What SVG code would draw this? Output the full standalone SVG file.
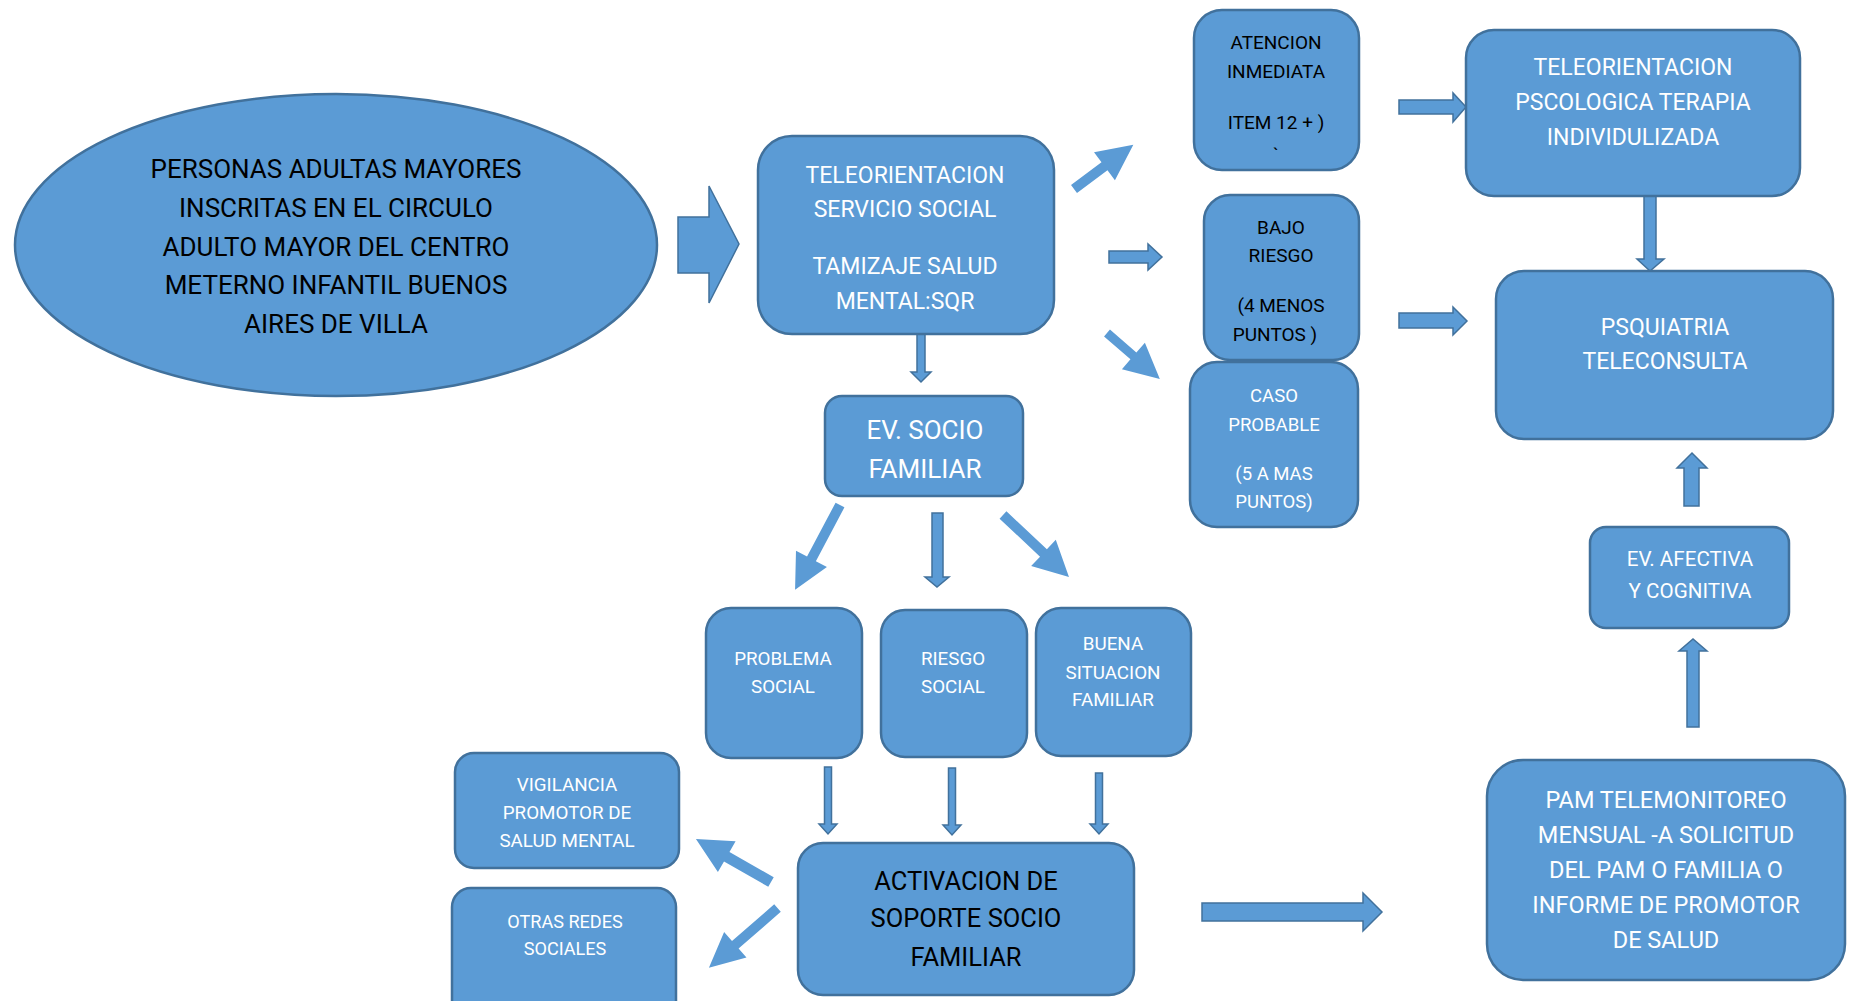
<svg xmlns="http://www.w3.org/2000/svg" width="1852" height="1001" viewBox="0 0 1852 1001">
<style>
.n{fill:#5B9BD5;stroke:#41719C;stroke-width:2.5}
.a{fill:#5B9BD5;stroke:#41719C;stroke-width:1.5}
.d{fill:#5B9BD5}
text{font-family:Roboto,"Liberation Sans",sans-serif;text-anchor:middle}
.w{fill:#FFFFFF}
.k{fill:#000000}
</style>
<rect width="1852" height="1001" fill="#FFFFFF"/>
<g id="connectors">
<polygon class="a" points="678,217 709,217 709,186 739,244 709,303 709,273 678,273"/>
<polygon class="a" points="917,305 925,305 925,372 931,372 921,382 911,372 917,372"/>
<polygon class="d" transform="translate(1074,189) rotate(-36.7)" points="0,-5 38,-5 38,-17.5 74,0 38,17.5 38,5 0,5"/>
<polygon class="a" points="1109,251 1148,251 1148,244 1162,257 1148,270 1148,263 1109,263"/>
<polygon class="d" transform="translate(1107,333) rotate(41)" points="0,-4.5 35,-4.5 35,-17.5 70,0 35,17.5 35,4.5 0,4.5"/>
<polygon class="a" points="1399,100 1453,100 1453,93 1466,107 1453,122 1453,114 1399,114"/>
<polygon class="a" points="1399,313 1453,313 1453,307 1467,321 1453,335 1453,328 1399,328"/>
<polygon class="a" points="1644,196 1656,196 1656,259 1664,259 1650,271 1637,259 1644,259"/>
<polygon class="a" points="1684,506 1699,506 1699,468 1707,468 1692,453 1677,468 1684,468"/>
<polygon class="a" points="1687,727 1699,727 1699,651 1707,651 1693,639 1679,651 1687,651"/>
<polygon class="d" transform="translate(840,505) rotate(117.9)" points="0,-5 61,-5 61,-17.5 96,0 61,17.5 61,5 0,5"/>
<polygon class="a" points="932,513 943,513 943,577 949,577 937,587 925,577 932,577"/>
<polygon class="d" transform="translate(1003,515) rotate(43.2)" points="0,-5 55.5,-5 55.5,-18 90.5,0 55.5,18 55.5,5 0,5"/>
<polygon class="a" points="824.5,767 831.5,767 831.5,824 837,824 828,834 819,824 824.5,824"/>
<polygon class="a" points="948.5,768 955.5,768 955.5,825 961,825 952,835 943,825 948.5,825"/>
<polygon class="a" points="1095.5,773 1102.5,773 1102.5,824 1108,824 1099,834 1090,824 1095.5,824"/>
<polygon class="d" transform="translate(771,882) rotate(-150.2)" points="0,-5.5 51,-5.5 51,-17.8 86.5,0 51,17.8 51,5.5 0,5.5"/>
<polygon class="d" transform="translate(777.5,908) rotate(138.9)" points="0,-5 56,-5 56,-17 91,0 56,17 56,5 0,5"/>
<polygon class="a" points="1202,903 1363,903 1363,893 1382,912 1363,931 1363,921 1202,921"/>
</g>
<g id="personas">
<ellipse class="n" cx="336" cy="245" rx="321" ry="151"/>
<text class="k" font-size="26"><tspan x="336" y="178">PERSONAS ADULTAS MAYORES</tspan><tspan x="336" y="217">INSCRITAS EN EL CIRCULO</tspan><tspan x="336" y="256">ADULTO MAYOR DEL CENTRO</tspan><tspan x="336" y="294">METERNO INFANTIL BUENOS</tspan><tspan x="336" y="333">AIRES DE VILLA</tspan></text>
</g>
<g id="teleorientacion-social">
<rect class="n" x="758" y="136" width="296" height="198" rx="34"/>
<text class="w" font-size="23"><tspan x="905" y="183">TELEORIENTACION</tspan><tspan x="905" y="217">SERVICIO SOCIAL</tspan><tspan x="905" y="274">TAMIZAJE SALUD</tspan><tspan x="905" y="309">MENTAL:SQR</tspan></text>
</g>
<g id="ev-socio">
<rect class="n" x="825" y="396" width="198" height="100" rx="17"/>
<text class="w" font-size="26"><tspan x="925" y="439">EV. SOCIO</tspan><tspan x="925" y="478">FAMILIAR</tspan></text>
</g>
<g id="atencion">
<rect class="n" x="1194" y="10" width="165" height="160" rx="28"/>
<text class="k" font-size="19"><tspan x="1276" y="49">ATENCION</tspan><tspan x="1276" y="78">INMEDIATA</tspan><tspan x="1276" y="129">ITEM 12 + )</tspan><tspan x="1276" y="161">`</tspan></text>
</g>
<g id="bajo-riesgo">
<rect class="n" x="1204" y="195" width="155" height="165" rx="26"/>
<text class="k" font-size="19"><tspan x="1281" y="234">BAJO</tspan><tspan x="1281" y="262">RIESGO</tspan><tspan x="1281" y="312">(4 MENOS</tspan><tspan x="1275" y="341">PUNTOS )</tspan></text>
</g>
<g id="caso-probable">
<rect class="n" x="1190" y="362" width="168" height="165" rx="27"/>
<text class="w" font-size="18.5"><tspan x="1274" y="402">CASO</tspan><tspan x="1274" y="431">PROBABLE</tspan><tspan x="1274" y="480">(5 A MAS</tspan><tspan x="1274" y="508">PUNTOS)</tspan></text>
</g>
<g id="teleorientacion-psicologica">
<rect class="n" x="1466" y="30" width="334" height="166" rx="28"/>
<text class="w" font-size="23"><tspan x="1633" y="75">TELEORIENTACION</tspan><tspan x="1633" y="110">PSCOLOGICA TERAPIA</tspan><tspan x="1633" y="145">INDIVIDULIZADA</tspan></text>
</g>
<g id="psiquiatria">
<rect class="n" x="1496" y="271" width="337" height="168" rx="28"/>
<text class="w" font-size="23"><tspan x="1665" y="335">PSQUIATRIA</tspan><tspan x="1665" y="369">TELECONSULTA</tspan></text>
</g>
<g id="ev-afectiva">
<rect class="n" x="1590" y="527" width="199" height="101" rx="16"/>
<text class="w" font-size="20.6"><tspan x="1690" y="566">EV. AFECTIVA</tspan><tspan x="1690" y="598">Y COGNITIVA</tspan></text>
</g>
<g id="pam">
<rect class="n" x="1487" y="760" width="358" height="220" rx="36"/>
<text class="w" font-size="23.5"><tspan x="1666" y="808">PAM TELEMONITOREO</tspan><tspan x="1666" y="843">MENSUAL -A SOLICITUD</tspan><tspan x="1666" y="878">DEL PAM O FAMILIA O</tspan><tspan x="1666" y="913">INFORME DE PROMOTOR</tspan><tspan x="1666" y="948">DE SALUD</tspan></text>
</g>
<g id="problema-social">
<rect class="n" x="706" y="608" width="156" height="150" rx="25"/>
<text class="w" font-size="18.8"><tspan x="783" y="665">PROBLEMA</tspan><tspan x="783" y="693">SOCIAL</tspan></text>
</g>
<g id="riesgo-social">
<rect class="n" x="881" y="610" width="146" height="147" rx="24"/>
<text class="w" font-size="18.8"><tspan x="953" y="665">RIESGO</tspan><tspan x="953" y="693">SOCIAL</tspan></text>
</g>
<g id="buena-situacion">
<rect class="n" x="1036" y="608" width="155" height="148" rx="25"/>
<text class="w" font-size="18.8"><tspan x="1113" y="650">BUENA</tspan><tspan x="1113" y="679">SITUACION</tspan><tspan x="1113" y="706">FAMILIAR</tspan></text>
</g>
<g id="vigilancia">
<rect class="n" x="455" y="753" width="224" height="115" rx="19"/>
<text class="w" font-size="18.8"><tspan x="567" y="791">VIGILANCIA</tspan><tspan x="567" y="819">PROMOTOR DE</tspan><tspan x="567" y="847">SALUD MENTAL</tspan></text>
</g>
<g id="otras-redes">
<rect class="n" x="452" y="888" width="224" height="135" rx="19"/>
<text class="w" font-size="18.1"><tspan x="565" y="928">OTRAS REDES</tspan><tspan x="565" y="955">SOCIALES</tspan></text>
</g>
<g id="activacion">
<rect class="n" x="798" y="843" width="336" height="152" rx="25"/>
<text class="k" font-size="25.5"><tspan x="966" y="890">ACTIVACION DE</tspan><tspan x="966" y="927">SOPORTE SOCIO</tspan><tspan x="966" y="966">FAMILIAR</tspan></text>
</g>
</svg>
